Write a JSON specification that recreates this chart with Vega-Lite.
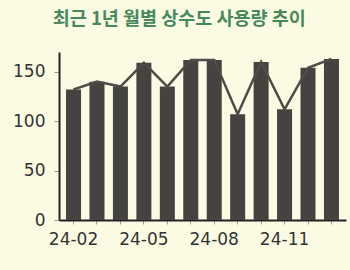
{
  "$schema": "https://vega.github.io/schema/vega-lite/v6.json",
  "width": 350,
  "height": 270,
  "autosize": {"type": "fit", "contains": "padding"},
  "padding": {"left": 12, "top": 9, "right": 4, "bottom": 23},
  "background": "#fbfbe4",
  "title": {
    "text": "최근 1년 월별 상수도 사용량 추이",
    "font": "Noto Sans CJK KR",
    "fontSize": 18.5,
    "fontWeight": "bold",
    "color": "#468a5c",
    "offset": 24,
    "anchor": "middle",
    "frame": "bounds"
  },
  "data": {
    "values": [
      {"month": "24-02", "usage": 132},
      {"month": "24-03", "usage": 140},
      {"month": "24-04", "usage": 135},
      {"month": "24-05", "usage": 159},
      {"month": "24-06", "usage": 135},
      {"month": "24-07", "usage": 162},
      {"month": "24-08", "usage": 162},
      {"month": "24-09", "usage": 107},
      {"month": "24-10", "usage": 160},
      {"month": "24-11", "usage": 112},
      {"month": "24-12", "usage": 154},
      {"month": "25-01", "usage": 163}
    ]
  },
  "encoding": {
    "x": {
      "field": "month",
      "type": "ordinal",
      "sort": null,
      "scale": {"paddingInner": 0.36, "paddingOuter": 0.3},
      "axis": {
        "title": null,
        "labelAngle": 0,
        "labelFont": "DejaVu Sans",
        "labelFontSize": 17,
        "labelColor": "#333",
        "labelExpr": "indexof(['24-02','24-05','24-08','24-11'], datum.value) >= 0 ? datum.value : ''",
        "domainColor": "#222",
        "domainWidth": 2,
        "tickColor": "#999",
        "tickSize": 4,
        "labelPadding": 7
      }
    },
    "y": {
      "field": "usage",
      "type": "quantitative",
      "scale": {"domain": [0, 170], "nice": false},
      "axis": {
        "title": null,
        "values": [0, 50, 100, 150],
        "grid": false,
        "labelFont": "DejaVu Sans",
        "labelFontSize": 17,
        "labelColor": "#333",
        "domainColor": "#222",
        "domainWidth": 2,
        "tickColor": "#999",
        "tickSize": 5,
        "labelPadding": 9
      }
    }
  },
  "layer": [
    {"mark": {"type": "bar", "color": "#444340"}},
    {"mark": {"type": "line", "color": "#4d4c48", "strokeWidth": 2.5}}
  ],
  "config": {"view": {"stroke": null}}
}
